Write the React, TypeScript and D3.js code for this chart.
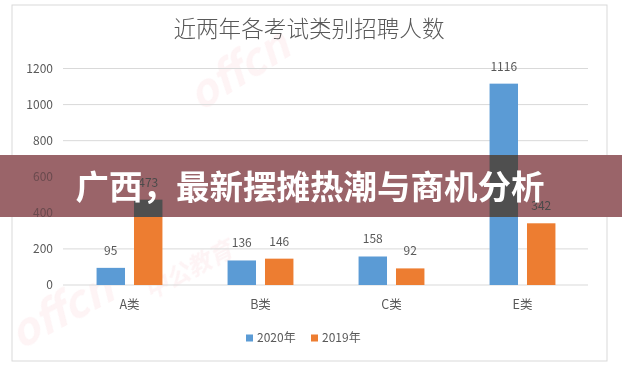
import React from 'react';
import * as d3 from 'd3';

const categories = ['A类', 'B类', 'C类', 'E类'];
const seriesNames = ['2020年', '2019年'];
const values2020 = [95, 136, 158, 1116];
const values2019 = [473, 146, 92, 342];
const yTicks = [0, 200, 400, 600, 800, 1000, 1200];
const chartTitle = '近两年各考试类别招聘人数';
const bannerText = '广西，最新摆摊热潮与商机分析';

const colors = ['#5b9bd5', '#ed7d31'];
const W = 622;
const H = 370;
const FONT = '"Noto Sans CJK SC", "Noto Sans", sans-serif';

const App: React.FC = () => {
    const x = d3.scaleBand<string>().domain(categories).range([64, 588]);
    const xInner = d3.scaleBand<string>()
        .domain(seriesNames)
        .range([0, x.bandwidth()])
        .paddingInner(0.24)
        .paddingOuter(0.87);
    const y = d3.scaleLinear().domain([0, 1200]).range([285, 68.5]);

    const seriesData = [values2020, values2019];

    const bars = seriesData.flatMap((vals, si) =>
        vals.map((v, ci) => ({
            key: `${si}-${ci}`,
            x: (x(categories[ci]) ?? 0) + (xInner(seriesNames[si]) ?? 0),
            y: y(v),
            h: y(0) - y(v),
            v,
            color: colors[si],
        }))
    );

    const bannerTop = 155;
    const bannerH = 62;

    const barMarks = (fill: string | null, labelFill: string) => (
        <g>
            {bars.map(b => (
                <rect key={b.key} x={b.x} y={b.y} width={xInner.bandwidth()} height={b.h}
                      fill={fill ?? b.color}/>
            ))}
            {bars.map(b => (
                <text key={'l' + b.key} x={b.x + xInner.bandwidth() / 2} y={b.y - 13}
                      textAnchor="middle" fontSize={12} fill={labelFill}>{b.v}</text>
            ))}
        </g>
    );

    return (
        <svg width={W} height={H} style={{position: 'absolute', left: 0, top: 0}}
             fontFamily={FONT}>
            <defs>
                <clipPath id="banner-clip">
                    <rect x={0} y={bannerTop} width={W} height={bannerH}/>
                </clipPath>
            </defs>
            <rect x={0} y={0} width={W} height={H} fill="#ffffff"/>

            {/* faint watermarks */}
            <g fill="#f08a96" opacity={0.1} fontWeight="bold" fontStyle="italic">
                <text x={200} y={112} fontSize={44} transform="rotate(-32 200 112)">offcn</text>
                <text x={20} y={350} fontSize={44} transform="rotate(-28 20 350)">offcn</text>
                <text x={150} y={300} fontSize={24} transform="rotate(-28 150 300)">中公教育</text>
            </g>

            <rect x={12} y={5} width={595} height={356} fill="none" stroke="#d9d9d9"/>

            <text x={309} y={37} textAnchor="middle" fontSize={22.6} fill="#595959"
                  fontWeight={300}>{chartTitle}</text>

            {yTicks.map(t => (
                <g key={t}>
                    <line x1={63} x2={588} y1={y(t)} y2={y(t)} stroke="#d9d9d9"/>
                    <text x={53} y={y(t)} dy="0.35em" textAnchor="end" fontSize={12}
                          fill="#595959">{t}</text>
                </g>
            ))}

            {barMarks(null, '#595959')}

            {categories.map(c => (
                <text key={c} x={(x(c) ?? 0) + x.bandwidth() / 2} y={305} dy="0.35em"
                      textAnchor="middle" fontSize={12.5} fill="#595959">{c}</text>
            ))}

            {seriesNames.map((s, i) => (
                <g key={s} transform={`translate(${246 + i * 65},338)`}>
                    <rect x={0} y={-3.5} width={7} height={7} fill={colors[i]}/>
                    <text x={11} y={0} dy="0.35em" fontSize={12} fill="#595959">{s}</text>
                </g>
            ))}

            {/* banner overlay */}
            <rect x={0} y={bannerTop} width={W} height={bannerH} fill="#9a6469"/>
            <g clipPath="url(#banner-clip)">
                {barMarks('#4f4f4f', '#4a4a4a')}
                {yTicks.map(t => (
                    <text key={t} x={53} y={y(t)} dy="0.35em" textAnchor="end" fontSize={12}
                          fill="#6a4a4e">{t}</text>
                ))}
            </g>
            <text x={310} y={187} dy="0.35em" textAnchor="middle" fontSize={33.5}
                  fontWeight="bold" fill="#ffffff">{bannerText}</text>
        </svg>
    );
};

export default App;
